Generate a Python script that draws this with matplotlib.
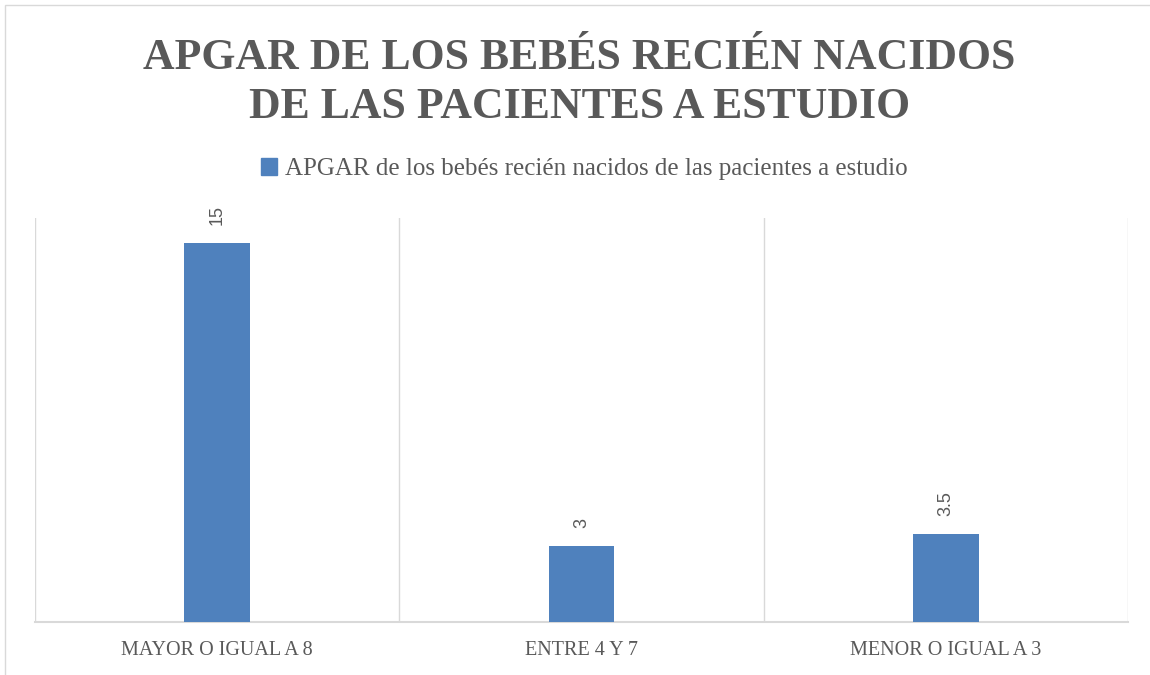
import matplotlib
matplotlib.use("Agg")
from matplotlib import pyplot as plt
from matplotlib.patches import Rectangle, Patch

#Data
categories = ["MAYOR O IGUAL A 8", "ENTRE 4 Y 7", "MENOR O IGUAL A 3"]
values = [15, 3, 3.5]
valueLabels = ["15", "3", "3.5"]
seriesName = "APGAR de los bebés recién nacidos de las pacientes a estudio"
title = "APGAR DE LOS BEBÉS RECIÉN NACIDOS\nDE LAS PACIENTES A ESTUDIO"

#Styles
barColor = "#4F81BD"
textColor = "#595959"
gridColor = "#D9D9D9"

fig = plt.figure(figsize=(11.5, 6.75), dpi=100)
ax = fig.add_axes([0.0304, 0.0785, 0.9505, 0.5985])

x = list(range(len(categories)))
bars = ax.bar(x, values, width=0.18, color=barColor, zorder=3)

ax.set_xlim(-0.5, len(categories) - 0.5)
ax.set_ylim(0, 16)

#Category separators instead of a value axis
for sep in [i - 0.5 for i in range(len(categories) + 1)]:
    ax.axvline(sep, color=gridColor, linewidth=1, zorder=1)
for side in ["left", "right", "top"]:
    ax.spines[side].set_visible(False)
ax.spines["bottom"].set_color(gridColor)
ax.spines["bottom"].set_linewidth(1.5)
ax.set_yticks([])
ax.set_xticks(x)
ax.set_xticklabels(categories, family="Liberation Serif", fontsize=14.5, color=textColor)
ax.tick_params(axis="x", length=0, pad=14)

#Rotated data labels above bars
for b, lab in zip(bars, valueLabels):
    ax.annotate(lab, (b.get_x() + b.get_width() / 2, b.get_height()),
                xytext=(0, 13), textcoords="offset points", rotation=90,
                ha="center", va="bottom", family="Liberation Sans",
                fontsize=13, color=textColor)

fig.text(0.504, 0.878, title, ha="center", va="center", family="Liberation Serif",
         fontweight="bold", fontsize=31.5, color=textColor, linespacing=1.28)

leg = fig.legend(handles=[Patch(color=barColor, label=seriesName)], loc="center",
                 bbox_to_anchor=(0.508, 0.749), frameon=False, handlelength=0.65,
                 handleheight=0.65, handletextpad=0.3,
                 prop={"family": "Liberation Serif", "size": 18})
for t in leg.get_texts():
    t.set_color(textColor)

#Outer chart border
fig.patches.append(Rectangle((0.004, -0.01), 1.0, 1.003, transform=fig.transFigure,
                             fill=False, edgecolor=gridColor, linewidth=1))

fig.savefig("out.png", dpi=100)
